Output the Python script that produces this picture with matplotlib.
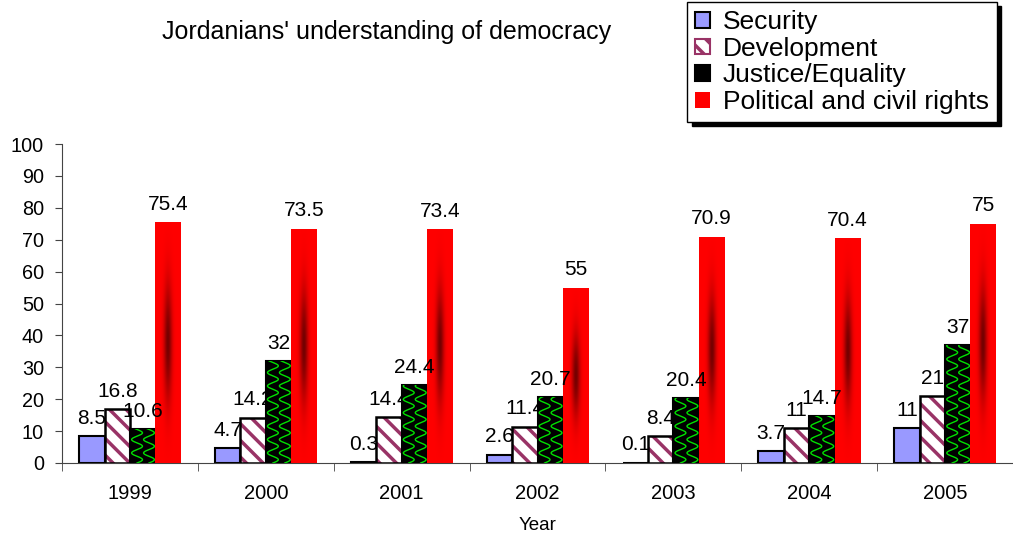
import numpy as np
import matplotlib
matplotlib.use("Agg")
import matplotlib.pyplot as plt
from matplotlib.patches import Patch

plt.rcParams['font.family'] = ['Liberation Sans', 'DejaVu Sans']
plt.rcParams['hatch.linewidth'] = 2.5

years = ['1999', '2000', '2001', '2002', '2003', '2004', '2005']
security = [8.5, 4.7, 0.3, 2.6, 0.1, 3.7, 11]
development = [16.8, 14.2, 14.4, 11.4, 8.4, 11, 21]
justice = [10.6, 32, 24.4, 20.7, 20.4, 14.7, 37]
political = [75.4, 73.5, 73.4, 55, 70.9, 70.4, 75]
names = ['Security', 'Development', 'Justice/Equality', 'Political and civil rights']

fig = plt.figure(figsize=(10.13, 5.42), dpi=100)
ax = fig.add_axes([62/1013, 79/542, (1013-62)/1013, 319/542])

x = np.arange(len(years))
w = 0.187
off = [-1.5*w, -0.5*w, 0.5*w, 1.5*w]

def lab(vals, k, z):
    for i, v in enumerate(vals):
        ax.annotate('%g' % v, (x[i]+off[k], v), xytext=(0, 6), textcoords='offset points',
                    ha='center', va='bottom', fontsize=15, zorder=z)

# security
ax.bar(x+off[0], security, w, color='#9999FF', edgecolor='black', lw=1.5, zorder=2)
lab(security, 0, 2.5)

# development
ax.bar(x+off[1], development, w, color='white', edgecolor='#993366', hatch='\\\\', lw=0, zorder=3)
ax.bar(x+off[1], development, w, color='none', edgecolor='black', lw=1.8, zorder=3.1)
lab(development, 1, 3.5)

# justice: black with green wavy lines
jb = ax.bar(x+off[2], justice, w, color='black', edgecolor='black', lw=1.5, zorder=4)
yy = np.linspace(0, 40, 400)
for i, r in enumerate(jb):
    for c in [0.28, 0.75]:
        xx = r.get_x() + c*w + 0.04*np.sin(2*np.pi*yy/4.2)
        ln, = ax.plot(xx, yy, color='#00E000', lw=1.0, zorder=4.2)
        ln.set_clip_path(r)

# political: red with dark centre
pb = ax.bar(x+off[3], political, w, color='red', lw=0, zorder=4.5)
u = np.linspace(-1, 1, 60)
v = np.linspace(-1, 1, 200)
U, V = np.meshgrid(u, v)
d = np.exp(-(U**2/0.10 + V**2/0.22))
img = np.zeros((200, 60, 3))
img[..., 0] = 1 - 0.55*d
for r in pb:
    im = ax.imshow(img, extent=[r.get_x(), r.get_x()+w, 0, r.get_height()],
                   aspect='auto', zorder=4.6, interpolation='bilinear')
    im.set_clip_path(r)
lab(justice, 2, 10)
lab(political, 3, 10)

ax.set_xlim(-0.5, (1013-62)/137.3 - 0.5)
ax.set_ylim(0, 100)
ax.set_yticks(range(0, 101, 10))
ax.set_xticks(x)
ax.set_xticklabels(years)
ax.set_xticks(np.arange(-0.5, 7, 1), minor=True)
ax.tick_params(axis='x', which='major', length=0, labelsize=14.5, pad=15)
ax.tick_params(axis='x', which='minor', length=6, direction='out', color='#444444')
ax.tick_params(axis='y', length=5, labelsize=14.3, color='#444444', pad=8)
for s in ['top', 'right']:
    ax.spines[s].set_visible(False)
ax.spines['left'].set_color('#444444')
ax.spines['bottom'].set_color('#444444')
ax.set_xlabel('Year', fontsize=13.5, labelpad=10)

fig.text(387/1013, 1-32/542, "Jordanians' understanding of democracy", ha='center', va='center', fontsize=18)

handles = [Patch(facecolor='#9999FF', edgecolor='black', lw=1.5),
           Patch(facecolor='white', edgecolor='#993366', hatch='\\\\', lw=1.5),
           Patch(facecolor='black', edgecolor='black', lw=1.5),
           Patch(facecolor='red', edgecolor='none')]
leg = fig.legend(handles, names, loc='lower right', bbox_to_anchor=(997/1013, 1-122/542),
                 fontsize=19, frameon=True, fancybox=False, edgecolor='black',
                 shadow={'color': 'black', 'alpha': 1, 'ox': 3, 'oy': -3},
                 handlelength=0.55, handleheight=0.55, handletextpad=0.5,
                 labelspacing=0.1, borderpad=0.3, borderaxespad=0)
leg.get_frame().set_linewidth(1)

fig.savefig('out.png', dpi=100)
